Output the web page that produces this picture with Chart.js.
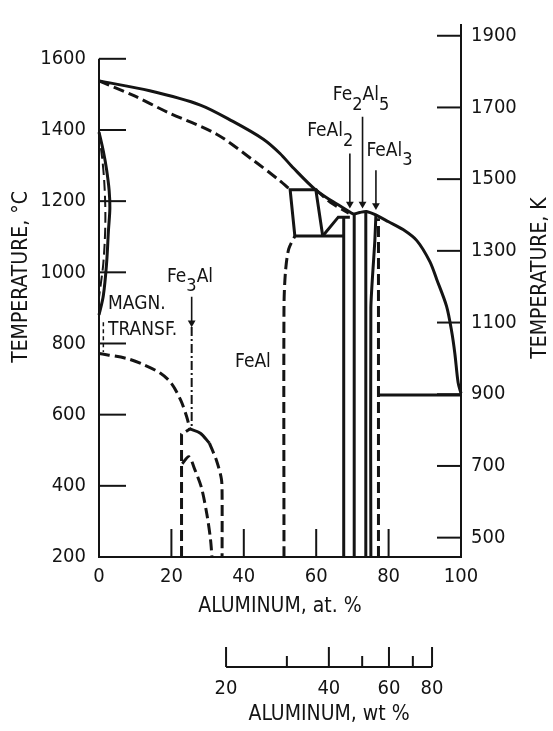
<!DOCTYPE html>
<html>
<head>
<meta charset="utf-8">
<script src="https://cdn.jsdelivr.net/npm/chart.js@4.4.1/dist/chart.umd.min.js"></script>
<style>
  html, body { margin: 0; padding: 0; background: #fff; }
</style>
</head>
<body>
<canvas id="phaseChart" width="553" height="731"></canvas>
<script>
const FONT = "'Liberation Sans Narrow', 'DejaVu Sans Condensed', sans-serif";
const INK = '#141414';

// axes
const atTicks = [0, 20, 40, 60, 80, 100];
const atInnerTicks = [20, 40, 60, 80];
const celsiusTicks = [200, 400, 600, 800, 1000, 1200, 1400, 1600];
const kelvinTicks = [500, 700, 900, 1100, 1300, 1500, 1700, 1900];
const wtTicks = [20, 30, 40, 50, 60, 70, 80];
const wtTickAt = [35.1, 51.9, 63.5, 72.7, 80.1, 86.7, 92.0]; // at.% where each wt% mark is printed
const wtLabelled = [20, 40, 60, 80];

// liquidus (solid)
const liqAl = [0, 14, 28, 37, 45.4, 50, 53.7, 60, 64.7, 68.4, 70.3, 72, 73.9, 76.7, 80, 84, 87.8, 91.4, 93.3, 96, 97.4, 98.3, 99.2, 100];
const liqT = [1538, 1510, 1470, 1424, 1374, 1334, 1293, 1230, 1198, 1175, 1164, 1168, 1171, 1160, 1142, 1120, 1089, 1030, 980, 905, 835, 772, 690, 660];

// solidus of FeAl (dashed)
const solAl = [0, 9.5, 18.7, 32.5, 42.6, 50, 52.8];
const solT = [1538, 1497, 1451, 1388, 1315, 1257, 1232];

// epsilon box and horizontals
const boxAl = [54.1, 52.8, 59.9, 61.8];
const boxT = [1102, 1232, 1232, 1102];
const eutectoidAl = [54.1, 67.6];
const eutectoidT = [1102, 1102];
const periAl = [61.8, 66.1, 69.3];
const periT = [1102, 1155, 1155];
const linkAl = [59.9, 64, 69];
const linkT = [1232, 1196, 1166];

// FeAl al-rich boundary (dashed)
const feAlBAl = [51.1, 51.1, 51.5, 52.4, 54.1];
const feAlBT = [200, 900, 1000, 1065, 1102];

// compound lines
const v1Al = [67.6, 67.6], v1T = [200, 1156];
const v2Al = [70.5, 70.5], v2T = [200, 1164];
const v3Al = [73.7, 73.7], v3T = [200, 1170];
const v4Al = [75.1, 75.1, 76.2, 76.5], v4T = [200, 900, 1089, 1163];
const v5Al = [77.2, 77.2], v5T = [200, 1152];
const eutecticAl = [77.2, 100], eutecticT = [655, 655];

// gamma loop
const gOutAl = [0, 1.2, 2.1, 2.8, 3.0, 2.6, 2.1, 1.2, 0];
const gOutT = [1394, 1340, 1288, 1230, 1180, 1116, 1026, 935, 880];
const gInAl = [0, 1.2, 1.7, 1.7, 1.2, 0.6, 0];
const gInT = [1394, 1288, 1198, 1116, 1026, 975, 930];
const magnAl = [1.2, 1.2], magnT = [860, 776];

// ordering A2/B2 (dashed)
const ordAl = [0, 7.6, 12, 16.9, 20, 22.6, 24.2, 25.1];
const ordT = [772, 758, 742, 717, 688, 640, 595, 560];

// Fe3Al domes
const domeTopAl = [25.1, 28, 30.5], domeTopT = [560, 548, 520];
const domeLeftAl = [22.8, 22.8, 25.1], domeLeftT = [200, 545, 560];
const domeRightAl = [30.5, 32.5, 33.8, 34, 34], domeRightT = [520, 470, 420, 380, 200];
const innerAl = [23, 24.8, 26.5, 28.3, 29.8, 30.8, 31.2];
const innerT = [462, 482, 445, 395, 320, 250, 200];

// arrows
const fe3AlArrowAl = [25.6, 25.6], fe3AlArrowT = [931, 858];
const fe3AlDotAl = [25.6, 25.6], fe3AlDotT = [846, 565];
const arrowAl = [69.3, 72.8, 76.5];
const arrowFromT = [1334, 1437, 1287];
const arrowToT = [1192, 1192, 1188];

// text labels ("_d" = subscript)
const labelText = ['Fe_3Al', 'MAGN.', 'TRANSF.', 'FeAl', 'FeAl_2', 'Fe_2Al_5', 'FeAl_3'];
const labelAl = [18.8, 2.5, 2.5, 37.6, 57.5, 64.6, 73.9];
const labelT = [988, 912, 839, 749, 1396, 1497, 1342];

function pts(xs, ys) {
  return xs.map((v, i) => ({x: v, y: ys[i]}));
}

function line(xs, ys, extra) {
  return Object.assign({
    data: pts(xs, ys),
    showLine: true,
    borderColor: INK,
    borderWidth: 3,
    pointRadius: 0,
    tension: 0,
    fill: false,
    clip: false
  }, extra || {});
}

const DASH = {borderDash: [11, 5]};

function arrow(xs, ys) {
  return line(xs, ys, {
    borderWidth: 1.6,
    pointRadius: [0, 4.5],
    pointStyle: 'triangle',
    rotation: 180,
    pointBackgroundColor: INK,
    pointBorderWidth: 0
  });
}

const datasets = [
  line(liqAl, liqT, {tension: 0.3}),
  line(solAl, solT, Object.assign({tension: 0.3}, DASH)),
  line(boxAl, boxT),
  line(eutectoidAl, eutectoidT),
  line(periAl, periT),
  line(linkAl, linkT, Object.assign({tension: 0.2}, DASH)),
  line(feAlBAl, feAlBT, Object.assign({tension: 0.3}, DASH)),
  line(v1Al, v1T),
  line(v2Al, v2T),
  line(v3Al, v3T),
  line(v4Al, v4T, {tension: 0.2}),
  line(v5Al, v5T, DASH),
  line(eutecticAl, eutecticT),
  line(gOutAl, gOutT, {tension: 0.35}),
  line(gInAl, gInT, Object.assign({tension: 0.35, borderWidth: 2}, DASH)),
  line(magnAl, magnT, {borderWidth: 1.5, borderDash: [4, 3]}),
  line(ordAl, ordT, Object.assign({tension: 0.3}, DASH)),
  line(domeTopAl, domeTopT, {tension: 0.3}),
  line(domeLeftAl, domeLeftT, DASH),
  line(domeRightAl, domeRightT, Object.assign({tension: 0.3}, DASH)),
  line(innerAl, innerT, Object.assign({tension: 0.3}, DASH)),
  arrow(fe3AlArrowAl, fe3AlArrowT),
  line(fe3AlDotAl, fe3AlDotT, {borderWidth: 2, borderDash: [9, 3, 2, 3]})
];
arrowAl.forEach((a, i) => datasets.push(arrow([a, a], [arrowFromT[i], arrowToT[i]])));

function drawRich(ctx, text, x, y, size) {
  const parts = text.split(/(_\d)/).filter(p => p);
  ctx.textAlign = 'left';
  ctx.textBaseline = 'middle';
  parts.forEach(p => {
    const sub = p[0] === '_';
    const s = sub ? p.slice(1) : p;
    ctx.font = (sub ? size - 1 : size) + 'px ' + FONT;
    ctx.fillText(s, x, sub ? y + 10 : y);
    x += ctx.measureText(s).width;
  });
}

function vText(ctx, text, cx, cy) {
  ctx.save();
  ctx.translate(cx, cy);
  ctx.rotate(-Math.PI / 2);
  ctx.font = '21px ' + FONT;
  ctx.textAlign = 'center';
  ctx.textBaseline = 'middle';
  ctx.fillText(text, 0, 0);
  ctx.restore();
}

const overlay = {
  id: 'overlay',
  afterDraw(chart) {
    const {ctx, chartArea: a, scales: {x, y, y2}} = chart;
    const seg = (x1, y1, x2, y2_) => { ctx.beginPath(); ctx.moveTo(x1, y1); ctx.lineTo(x2, y2_); ctx.stroke(); };
    ctx.save();
    ctx.strokeStyle = INK;
    ctx.fillStyle = INK;
    ctx.lineWidth = 2;
    // left axis only up to 1600
    seg(a.left, y.getPixelForValue(1600), a.left, a.bottom);
    celsiusTicks.forEach(v => seg(a.left, y.getPixelForValue(v), a.left + 27, y.getPixelForValue(v)));
    kelvinTicks.forEach(v => seg(a.right, y2.getPixelForValue(v), a.right - 24, y2.getPixelForValue(v)));
    atInnerTicks.forEach(v => seg(x.getPixelForValue(v), a.bottom, x.getPixelForValue(v), a.bottom - 28));

    // axis titles, read bottom to top
    vText(ctx, 'TEMPERATURE, °C', 22, 277);
    vText(ctx, 'TEMPERATURE, K', 541, 278);

    // wt % scale
    const wy = 667;
    const wx0 = x.getPixelForValue(wtTickAt[0]);
    const wx1 = x.getPixelForValue(wtTickAt[wtTickAt.length - 1]);
    seg(wx0, wy, wx1, wy);
    ctx.font = '20px ' + FONT;
    ctx.textAlign = 'center';
    ctx.textBaseline = 'middle';
    wtTicks.forEach((w, i) => {
      const px = x.getPixelForValue(wtTickAt[i]);
      const major = wtLabelled.includes(w);
      seg(px, wy, px, wy - (major ? 20 : 11));
      if (major) ctx.fillText(String(w), px, 689);
    });
    ctx.font = '21px ' + FONT;
    ctx.fillText('ALUMINUM, wt %', (wx0 + wx1) / 2, 715);

    // labels
    labelText.forEach((t, i) => {
      drawRich(ctx, t, x.getPixelForValue(labelAl[i]), y.getPixelForValue(labelT[i]), 19);
    });
    ctx.restore();
  }
};

const plain = v => String(v);

new Chart(document.getElementById('phaseChart'), {
  type: 'scatter',
  data: { datasets: datasets },
  options: {
    responsive: false,
    animation: false,
    layout: { padding: { top: 7, bottom: 112, left: 0, right: 0 } },
    plugins: { legend: { display: false }, tooltip: { enabled: false } },
    scales: {
      x: {
        type: 'linear', min: 0, max: 100, position: 'bottom',
        grid: { display: false, drawTicks: false },
        border: { display: true, color: INK, width: 2 },
        afterBuildTicks: s => { s.ticks = atTicks.map(v => ({value: v})); },
        ticks: { color: INK, font: { family: FONT, size: 20 }, padding: 8, maxRotation: 0, autoSkip: false, callback: plain },
        title: { display: true, text: 'ALUMINUM, at. %', color: INK, font: { family: FONT, size: 21 }, padding: 0 },
        afterFit: s => { s.height = 62; }
      },
      y: {
        type: 'linear', min: 200, max: 1695, position: 'left',
        grid: { display: false, drawTicks: false },
        border: { display: false },
        afterBuildTicks: s => { s.ticks = celsiusTicks.map(v => ({value: v})); },
        ticks: { color: INK, font: { family: FONT, size: 20 }, padding: 13, autoSkip: false, callback: plain },
        title: { display: false },
        afterFit: s => { s.width = 99; }
      },
      y2: {
        type: 'linear', min: 446, max: 1930, position: 'right',
        grid: { display: false, drawTicks: false },
        border: { display: true, color: INK, width: 2 },
        afterBuildTicks: s => { s.ticks = kelvinTicks.map(v => ({value: v})); },
        ticks: { color: INK, font: { family: FONT, size: 20 }, padding: 10, autoSkip: false, callback: plain },
        title: { display: false },
        afterFit: s => { s.width = 92; }
      }
    }
  },
  plugins: [overlay]
});
</script>
</body>
</html>
